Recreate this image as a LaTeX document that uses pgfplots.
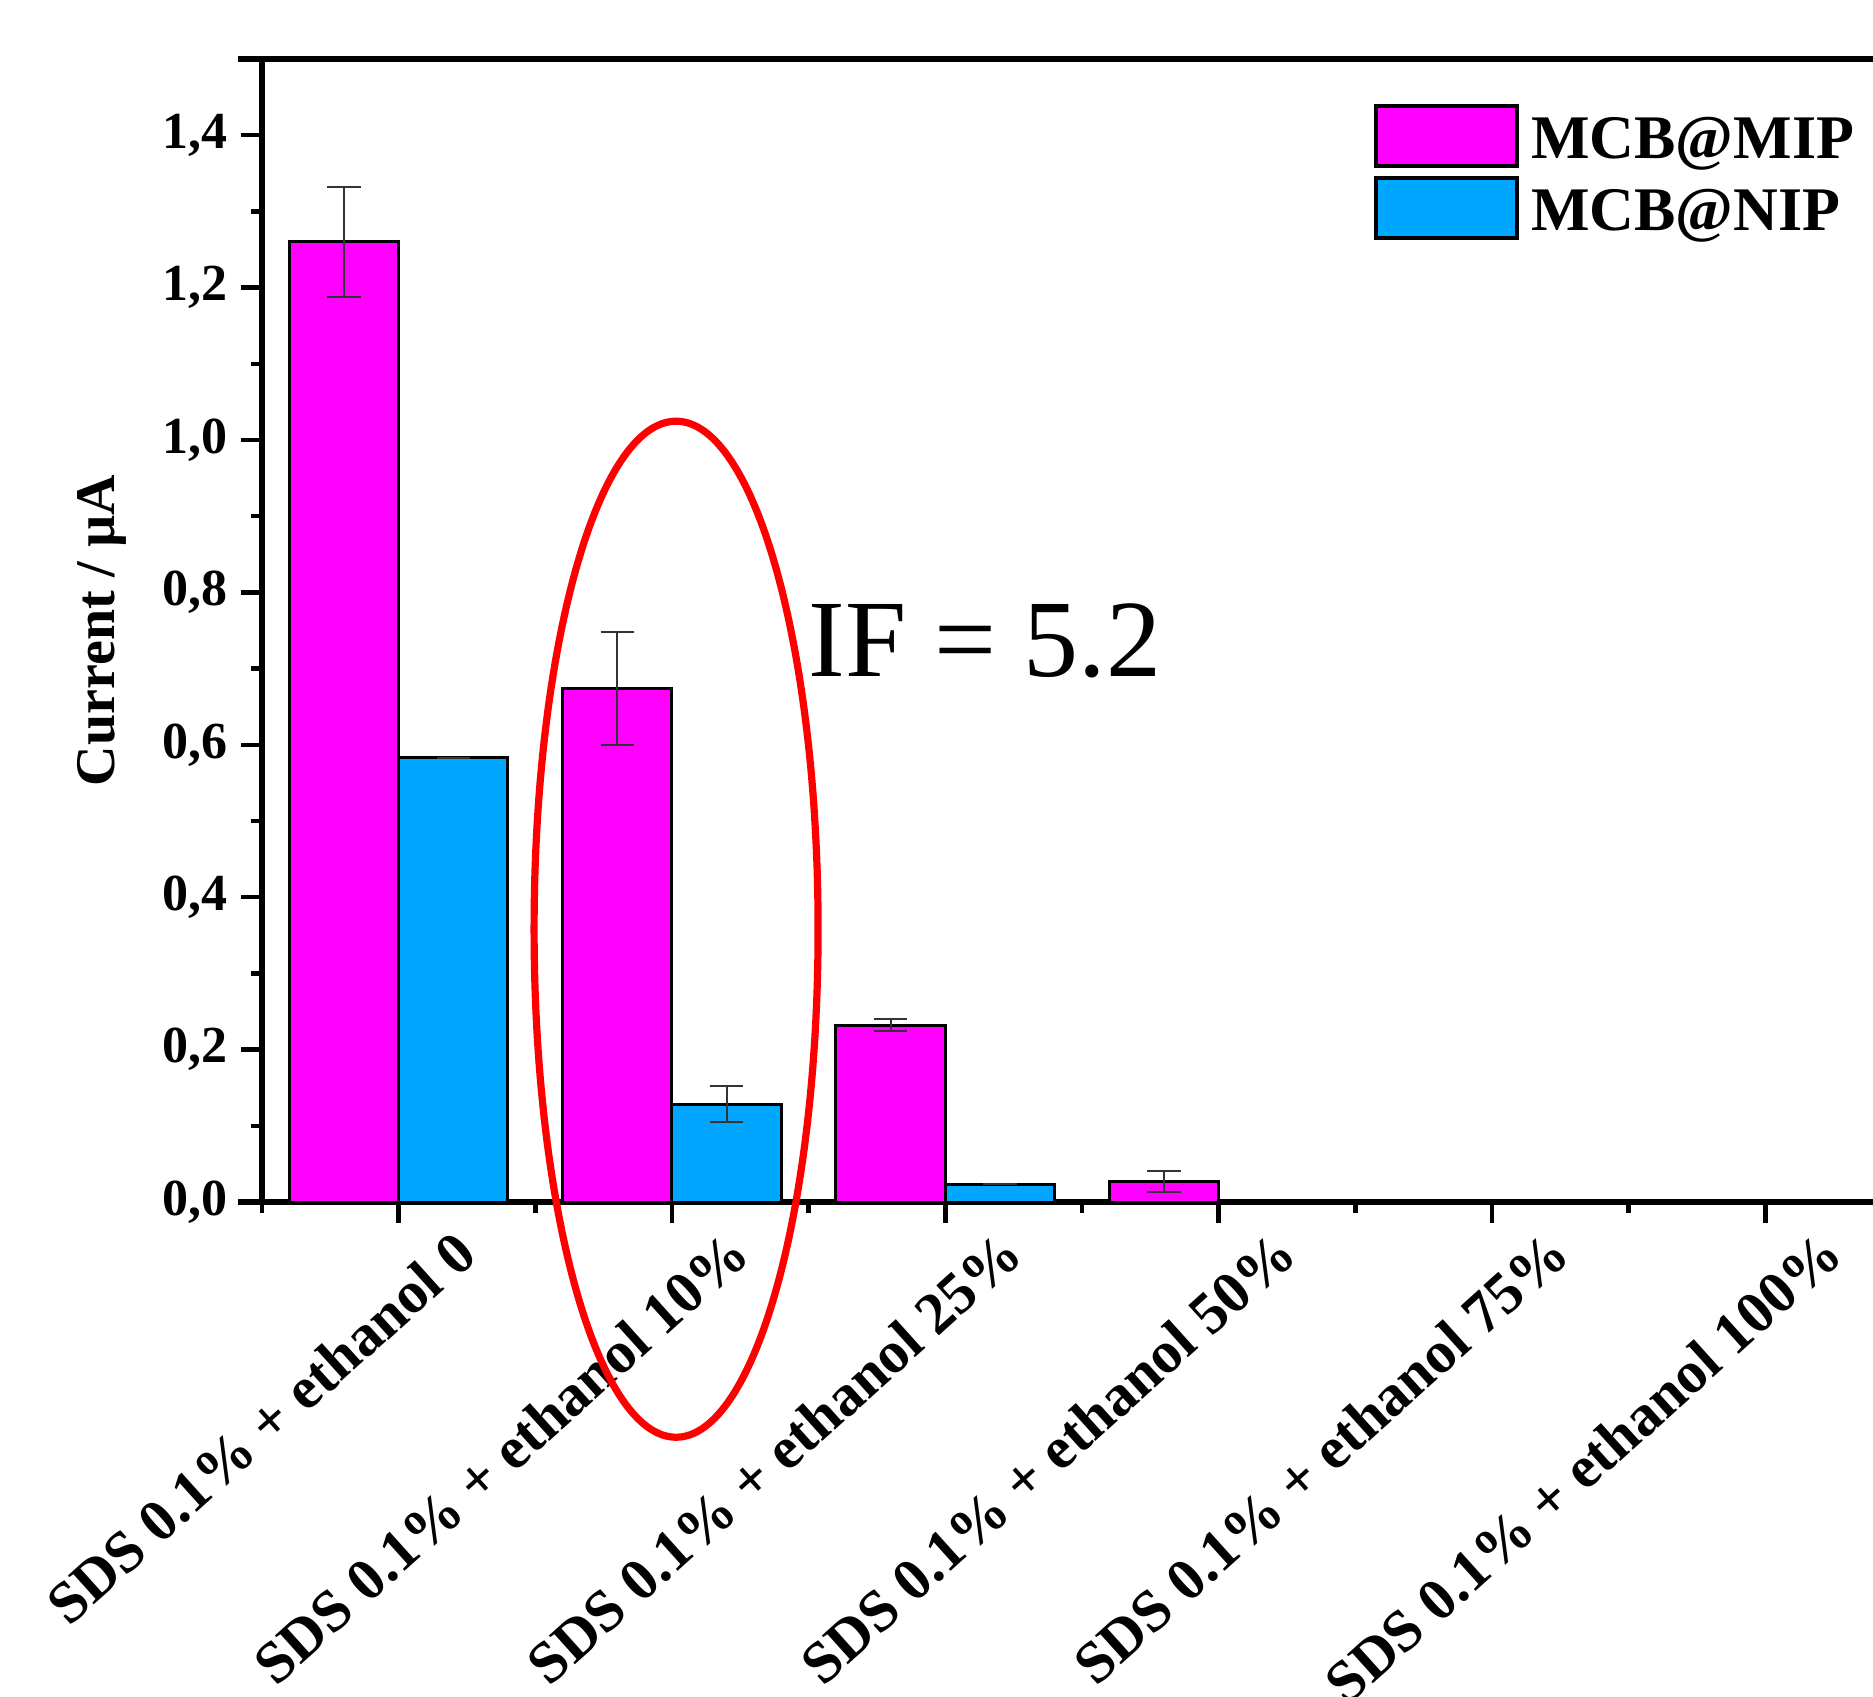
\documentclass[border=0pt]{standalone}
\usepackage{fontspec}
\setmainfont{Liberation Serif}
\usepackage{pgfplots}
\pgfplotsset{compat=1.18}
\definecolor{mip}{RGB}{255,0,255}
\definecolor{nip}{RGB}{0,166,255}
\pgfplotsset{lgbox/.style={legend image code/.code={\draw[##1, line width=1pt] (0pt,-6.3pt) rectangle (35.2pt,8.7pt);}}}
\begin{document}
\begin{tikzpicture}
\begin{axis}[
  scale only axis, width=402.75pt, height=285.75pt,
  xmin=-0.5, xmax=5.394, ymin=0, ymax=1.5,
  clip=false,
  axis x line=bottom, axis y line=left,
  axis line style={line width=1.3pt, -},
  tick align=outside,
  major tick length=5.2pt, minor tick length=2.7pt,
  every tick/.style={black, line width=1.1pt},
  xtick={0,1,2,3,4,5},
  minor xtick={-0.5,0.5,1.5,2.5,3.5,4.5},
  xticklabels={SDS 0.1\% + ethanol 0, SDS 0.1\% + ethanol 10\%, SDS 0.1\% + ethanol 25\%, SDS 0.1\% + ethanol 50\%, SDS 0.1\% + ethanol 75\%, SDS 0.1\% + ethanol 100\%},
  xticklabel style={rotate=42, anchor=north east, inner sep=0pt, xshift=9.2pt, yshift=-9.6pt, font=\fontsize{14.8}{17}\selectfont\bfseries},
  ytick={0,0.2,0.4,0.6,0.8,1.0,1.2,1.4},
  minor ytick={0.1,0.3,0.5,0.7,0.9,1.1,1.3,1.5},
  yticklabel style={font=\fontsize{13}{15}\selectfont\bfseries, /pgf/number format/use comma, /pgf/number format/fixed, /pgf/number format/fixed zerofill, /pgf/number format/precision=1, /pgf/number format/assume math mode=true},
  ylabel={Current / µA},
  ylabel style={font=\fontsize{14}{16}\selectfont\bfseries, at={(axis description cs:-0.0993,0.5)}, anchor=center},
  legend style={at={(axis description cs:0.690,0.9615)}, anchor=north west, draw=none, fill=none, inner sep=0pt, row sep=2pt, font=\fontsize{15.5}{17}\selectfont\bfseries, nodes={inner sep=1pt}, column sep=2pt},
  legend cell align=left,
]
\addplot[ybar, bar width=0.4, bar shift=0, fill=mip, draw=black, line width=0.75pt, lgbox,
  error bars/.cd, y dir=both, y explicit,
  error bar style={line width=0.5pt, black!80},
  error mark options={rotate=90, mark size=4.2pt, line width=0.5pt, black!80}]
  coordinates {(-0.2,1.260) +- (0,0.072) (0.8,0.674) +- (0,0.074) (1.8,0.232) +- (0,0.008) (2.8,0.0267) +- (0,0.014)};
\addlegendentry{MCB@MIP}
\addplot[ybar, bar width=0.4, bar shift=0, fill=nip, draw=black, line width=0.75pt, lgbox,
  error bars/.cd, y dir=both, y explicit,
  error bar style={line width=0.5pt, black!80},
  error mark options={rotate=90, mark size=4.2pt, line width=0.5pt, black!80}]
  coordinates {(0.2,0.583) +- (0,0) (1.2,0.1285) +- (0,0.024) (2.2,0.0235) +- (0,0)};
\addlegendentry{MCB@NIP}
\draw[line width=1.3pt] ([xshift=-6pt]rel axis cs:0,1) -- (rel axis cs:1,1);
\draw[line width=1.3pt] ([xshift=-6pt]rel axis cs:0,0) -- (rel axis cs:0,0);
\node[anchor=base west, inner sep=0pt, font=\fontsize{27.5}{30}\selectfont] at (axis cs:1.498,0.69) {IF = 5.2};
\coordinate (ec) at (axis cs:1.015,0.358);
\end{axis}
\draw[red, line width=1.8pt] (ec) ellipse [x radius=35.5pt, y radius=127pt];
\pgfresetboundingbox
\useasboundingbox ([shift={(-65.5pt,-123.5pt)}]current axis.south west) rectangle ([shift={(0pt,14.75pt)}]current axis.north east);
\end{tikzpicture}
\end{document}
